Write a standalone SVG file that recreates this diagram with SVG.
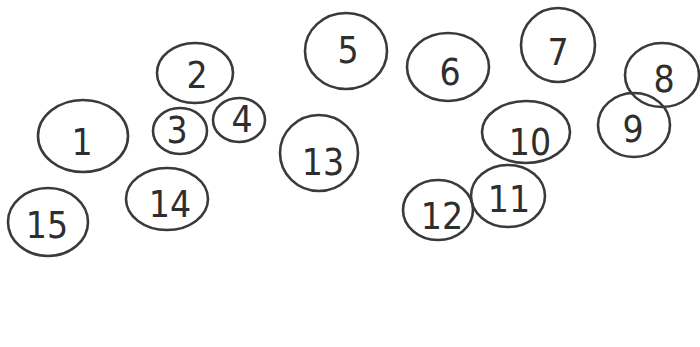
<svg xmlns="http://www.w3.org/2000/svg" width="700" height="347" viewBox="0 0 700 347">
<style>
.c{fill:none;stroke:#3a3a3a;stroke-width:2.6}
.t{font-family:"Liberation Sans Narrow","DejaVu Sans Condensed","Liberation Sans",sans-serif;font-size:37px;fill:#2e2e2e;text-anchor:middle}
</style>
<rect width="700" height="347" fill="#ffffff"/>
<g id="n1"><ellipse class="c" cx="83" cy="136" rx="45" ry="36"/><text class="t" x="82" y="155">1</text></g>
<g id="n2"><ellipse class="c" cx="195" cy="73" rx="38" ry="30"/><text class="t" x="197" y="88">2</text></g>
<g id="n3"><ellipse class="c" cx="180" cy="131" rx="27" ry="23"/><text class="t" x="177" y="143">3</text></g>
<g id="n4"><ellipse class="c" cx="239" cy="120" rx="26" ry="22"/><text class="t" x="242" y="132">4</text></g>
<g id="n5"><ellipse class="c" cx="346" cy="51" rx="41" ry="38"/><text class="t" x="348" y="63">5</text></g>
<g id="n6"><ellipse class="c" cx="448" cy="67" rx="41" ry="34"/><text class="t" x="450" y="85">6</text></g>
<g id="n7"><ellipse class="c" cx="558" cy="45" rx="37" ry="37"/><text class="t" x="558" y="65">7</text></g>
<g id="n8"><ellipse class="c" cx="662" cy="75" rx="37" ry="32"/><text class="t" x="664" y="92">8</text></g>
<g id="n9"><ellipse class="c" cx="634" cy="125" rx="36" ry="32"/><text class="t" x="633" y="142">9</text></g>
<g id="n10"><ellipse class="c" cx="526" cy="132" rx="44" ry="31"/><text class="t" x="530" y="155">10</text></g>
<g id="n11"><ellipse class="c" cx="508" cy="196" rx="37" ry="31"/><text class="t" x="509" y="212">11</text></g>
<g id="n12"><ellipse class="c" cx="438" cy="210" rx="35" ry="30"/><text class="t" x="442" y="229">12</text></g>
<g id="n13"><ellipse class="c" cx="319" cy="153" rx="39" ry="38"/><text class="t" x="323" y="175">13</text></g>
<g id="n14"><ellipse class="c" cx="167" cy="199" rx="41" ry="31"/><text class="t" x="170" y="217">14</text></g>
<g id="n15"><ellipse class="c" cx="48" cy="222" rx="40" ry="34"/><text class="t" x="47" y="238">15</text></g>
<g id="connectors"></g>
</svg>
